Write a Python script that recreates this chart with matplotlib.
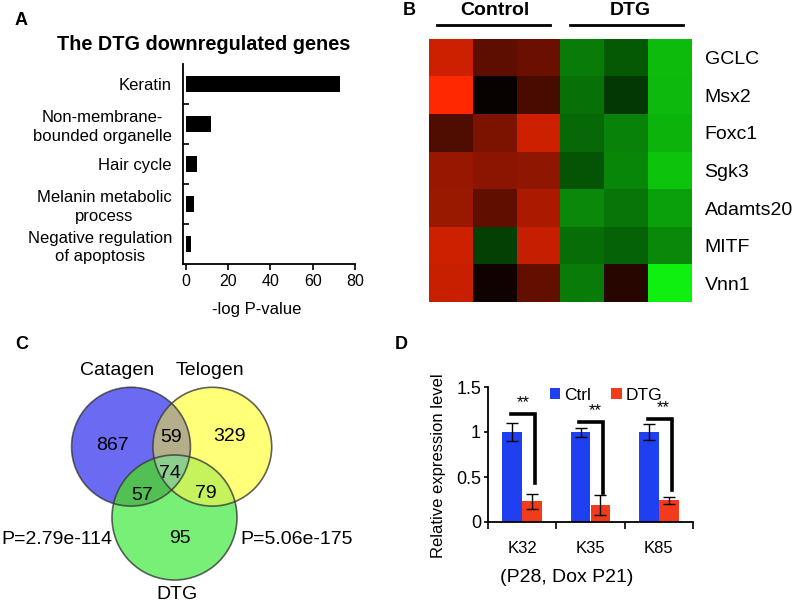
import numpy as np
import matplotlib
matplotlib.use("Agg")
import matplotlib.pyplot as plt
from matplotlib.colors import LinearSegmentedColormap, to_rgb
from matplotlib.patches import Circle

plt.rcParams["font.family"] = ["Liberation Sans", "DejaVu Sans"]

W, H = 794, 602

# panel A: GO terms
go_terms = ["Keratin", "Non-membrane-\nbounded organelle", "Hair cycle",
            "Melanin metabolic\nprocess", "Negative regulation\nof apoptosis"]
go_logp = [73.0, 11.7, 5.0, 4.0, 2.2]

# panel B: heatmap (log ratio, red = up, green = down)
genes = ["GCLC", "Msx2", "Foxc1", "Sgk3", "Adamts20", "MITF", "Vnn1"]
heat = np.array([
    [0.80, 0.36, 0.42, -0.51, -0.37, -0.78],
    [1.00, 0.03, 0.28, -0.47, -0.23, -0.77],
    [0.31, 0.48, 0.80, -0.43, -0.54, -0.75],
    [0.59, 0.54, 0.56, -0.35, -0.56, -0.82],
    [0.60, 0.37, 0.67, -0.57, -0.49, -0.67],
    [0.80, -0.27, 0.77, -0.46, -0.41, -0.57],
    [0.78, 0.06, 0.39, -0.51, 0.16, -1.00],
])

# panel C: venn counts
venn_sets = ["Catagen", "Telogen", "DTG"]
venn_counts = {"100": 867, "010": 329, "001": 95, "110": 59,
               "101": 57, "011": 79, "111": 74}
venn_pvals = ["P=2.79e-114", "P=5.06e-175"]

# panel D: qPCR
genes_d = ["K32", "K35", "K85"]
ctrl_mean = [1.0, 1.0, 1.0]
ctrl_err = [0.095, 0.05, 0.09]
dtg_mean = [0.23, 0.19, 0.24]
dtg_err = [0.085, 0.115, 0.035]
bracket_top = [1.20, 1.11, 1.14]
bracket_low = [0.43, 0.32, 0.36]


def box(x0, y0, x1, y1):
    # pixel box -> figure fraction
    return [x0 / W, 1 - y1 / H, (x1 - x0) / W, (y1 - y0) / H]


fig = plt.figure(figsize=(W / 100, H / 100), dpi=100)

# ---------------- A ----------------
axA = fig.add_axes(box(183, 64, 355, 264))
axA.barh(range(len(go_terms)), go_logp, height=0.38, color="black")
axA.set_ylim(len(go_terms) - 0.5, -0.5)
axA.set_xlim(-1.4, 80)
axA.set_xticks([0, 20, 40, 60, 80])
axA.tick_params(axis="x", labelsize=11.5, length=4, width=1.2, direction="out", pad=3)
axA.set_yticks(range(len(go_terms)))
axA.set_yticklabels(go_terms, fontsize=12)
for t in axA.get_yticklabels():
    t.set_multialignment("center")
    t.set_linespacing(1.3)
axA.set_yticks([0.5, 1.5, 2.5, 3.5], minor=True)
axA.tick_params(axis="y", which="major", length=0, pad=8)
axA.tick_params(axis="y", which="minor", length=4, width=1.2, direction="in")
for s in ["top", "right"]:
    axA.spines[s].set_visible(False)
for s in ["left", "bottom"]:
    axA.spines[s].set_linewidth(1.3)

# ---------------- B ----------------
cmap = LinearSegmentedColormap.from_list("rg", [(0, "#10f010"), (0.5, "#000000"), (1, "#ff2800")])
axB = fig.add_axes(box(429, 39, 692, 302))
axB.imshow(heat, cmap=cmap, vmin=-1, vmax=1, aspect="auto", interpolation="nearest")
axB.set_xticks([])
axB.yaxis.tick_right()
axB.set_yticks(range(len(genes)))
axB.set_yticklabels(genes, fontsize=14)
axB.tick_params(axis="y", length=0, pad=9)
for s in axB.spines.values():
    s.set_visible(False)

# ---------------- D ----------------
axD = fig.add_axes(box(488, 387, 693, 522))
x = np.arange(len(genes_d))
axD.bar(x - 0.146, ctrl_mean, width=0.29, color="#1e40f0", label="Ctrl",
        yerr=ctrl_err, error_kw=dict(ecolor="black", elinewidth=1, capsize=4.3, capthick=1))
axD.bar(x + 0.146, dtg_mean, width=0.29, color="#f23b1a", label="DTG",
        yerr=dtg_err, error_kw=dict(ecolor="black", elinewidth=1, capsize=4.3, capthick=1))
for i in range(len(genes_d)):
    axD.plot([i - 0.165, i + 0.19, i + 0.19], [bracket_top[i], bracket_top[i], bracket_low[i]],
             color="black", lw=2.6, solid_joinstyle="miter", clip_on=False)
    axD.text(i + 0.02 + (0.05 if i > 0 else 0), bracket_top[i] + 0.08, "**",
             ha="center", va="baseline", fontsize=12)
axD.set_xlim(-0.5, 2.5)
axD.set_ylim(0, 1.5)
axD.set_yticks([0, 0.5, 1, 1.5])
axD.set_yticklabels(["0", "0.5", "1", "1.5"])
axD.tick_params(axis="y", labelsize=13, length=3, width=1.2, direction="out", pad=2)
axD.set_xticks(x)
axD.set_xticklabels(genes_d, fontsize=12)
axD.set_xticks([-0.5, 0.5, 1.5, 2.5], minor=True)
axD.tick_params(axis="x", which="major", length=0, pad=14)
axD.tick_params(axis="x", which="minor", length=5, width=1.2, direction="out")
for s in ["top", "right"]:
    axD.spines[s].set_visible(False)
for s in ["left", "bottom"]:
    axD.spines[s].set_linewidth(1.3)
axD.legend(loc="center", bbox_to_anchor=(0.575, 0.94), ncol=2, frameon=False,
           fontsize=12.5, handlelength=0.6, handleheight=0.6, handletextpad=0.2,
           columnspacing=1.2, borderpad=0)

# ---------------- overlay (labels, venn) ----------------
axO = fig.add_axes([0, 0, 1, 1])
axO.set_xlim(0, W)
axO.set_ylim(H, 0)
axO.axis("off")

axO.text(15, 25, "A", fontsize=13, fontweight="bold", va="baseline")
axO.text(204, 49.5, "The DTG downregulated genes", fontsize=14.3, fontweight="bold",
         ha="center", va="baseline")
axO.text(257, 314, "-log P-value", fontsize=12, ha="center", va="baseline")

axO.text(403, 15, "B", fontsize=13, fontweight="bold", va="baseline")
axO.text(495, 15, "Control", fontsize=14, fontweight="bold", ha="center", va="baseline")
axO.text(630, 15, "DTG", fontsize=14, fontweight="bold", ha="center", va="baseline")
axO.plot([437, 550], [25, 25], color="black", lw=2)
axO.plot([570, 683], [25, 25], color="black", lw=2)

axO.text(15, 349, "C", fontsize=13, fontweight="bold", va="baseline")
axO.text(395, 349, "D", fontsize=13, fontweight="bold", va="baseline")

# venn circles (layout)
circles = [(131.0, 446.7, 59.4), (212.3, 446.7, 59.4), (174.5, 517.5, 62.5)]
region_colors = {"100": "#6a6af2", "010": "#ffff78", "001": "#78f078",
                 "110": "#b4ae8a", "101": "#52c052", "011": "#c6f35c", "111": "#8ccf8c"}
gx0, gx1, gy0, gy1 = 60, 290, 380, 590
gx = np.arange(gx0, gx1) + 0.5
gy = np.arange(gy0, gy1) + 0.5
XX, YY = np.meshgrid(gx, gy)
inside = [((XX - cx) ** 2 + (YY - cy) ** 2) <= r ** 2 for cx, cy, r in circles]
img = np.zeros(XX.shape + (4,))
for key, col in region_colors.items():
    m = np.ones(XX.shape, bool)
    for k, flag in enumerate(key):
        m &= inside[k] if flag == "1" else ~inside[k]
    img[m] = list(to_rgb(col)) + [1.0]
axO.imshow(img, extent=(gx0, gx1, gy1, gy0), interpolation="nearest", zorder=1)
for cx, cy, r in circles:
    axO.add_patch(Circle((cx, cy), r, fill=False, ec="#3a3a3a", lw=1.2, alpha=0.8, zorder=2))

axO.text(117, 375, venn_sets[0], fontsize=14, ha="center", va="baseline")
axO.text(210, 375, venn_sets[1], fontsize=14, ha="center", va="baseline")
axO.text(177, 599, venn_sets[2], fontsize=14, ha="center", va="baseline")
count_pos = {"100": (112.5, 450), "010": (229, 441), "001": (180, 543), "110": (171, 442),
             "101": (142, 500), "011": (206, 498), "111": (170, 478)}
for key, (px, py) in count_pos.items():
    axO.text(px, py, str(venn_counts[key]), fontsize=14, ha="center", va="baseline", zorder=3)
axO.text(112, 544, venn_pvals[0], fontsize=14, ha="right", va="baseline")
axO.text(240, 544, venn_pvals[1], fontsize=14, ha="left", va="baseline")

axO.text(439, 466, "Relative expression level", fontsize=12, rotation=90,
         ha="center", va="center")
axO.text(567, 577, "(P28, Dox P21)", fontsize=14, ha="center", va="center")

fig.savefig("out.png", dpi=100)
